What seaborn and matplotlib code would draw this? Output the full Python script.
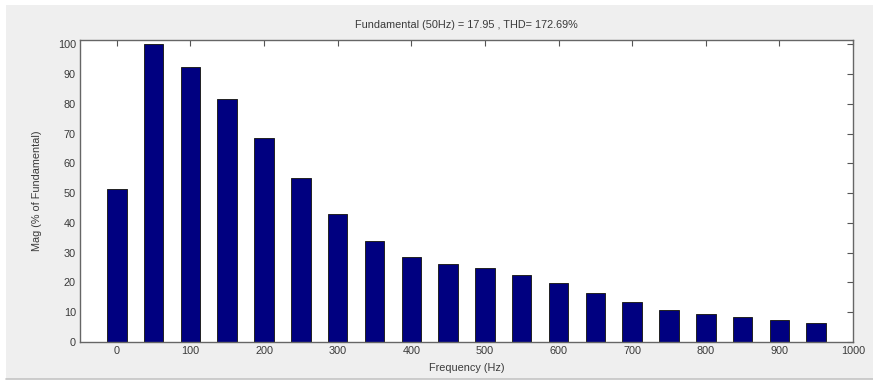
# FFT spectrum bar chart (MATLAB powergui style)
import numpy as np
import pandas as pd
import seaborn as sns
import matplotlib.pyplot as plt
from matplotlib.patches import Rectangle
from matplotlib.lines import Line2D

# harmonic frequencies (Hz) and magnitudes (% of fundamental)
freq = [0, 50, 100, 150, 200, 250, 300, 350, 400, 450,
        500, 550, 600, 650, 700, 750, 800, 850, 900, 950]
mag = [51.4, 100.0, 92.5, 81.7, 68.6, 55.0, 43.1, 33.8, 28.4, 26.3,
       24.9, 22.4, 19.8, 16.6, 13.4, 10.9, 9.4, 8.3, 7.4, 6.4]

title = "Fundamental (50Hz) = 17.95 , THD= 172.69%"
xlabel = "Frequency (Hz)"
ylabel = "Mag (% of Fundamental)"
xticks = list(range(0, 1001, 100))
yticks = list(range(0, 101, 10))

df = pd.DataFrame({"freq": freq, "mag": mag})

sns.set_style("white")
plt.rcParams["font.family"] = ["Liberation Sans", "DejaVu Sans"]
txt_col = "#3a3a3a"

fig = plt.figure(figsize=(8.73, 3.83), dpi=100, facecolor="white")
# grey window panel behind the axes
fig.patches.append(Rectangle((6 / 873, 4 / 383), 867 / 873, 374 / 383,
                             transform=fig.transFigure, facecolor="#efefef",
                             edgecolor="none", zorder=-10))
fig.lines.append(Line2D([6 / 873, 1], [4 / 383, 4 / 383], transform=fig.transFigure,
                        color="#c4c4c4", lw=1.2, zorder=-9))

ax = fig.add_axes([80 / 873, 41 / 383, 773 / 873, 302 / 383])
ax.set_facecolor("white")

sns.barplot(data=df, x="freq", y="mag", native_scale=True, width=0.53,
            color="#000080", saturation=1, edgecolor="#222222", linewidth=0.7,
            ax=ax)

ax.set_xlim(-50, 1000)
ax.set_ylim(0, 101.5)
ax.set_xticks(xticks)
ax.set_yticks(yticks)
ax.tick_params(direction="in", length=4, width=0.8, top=True, right=True,
               labelsize=7.8, colors="#555555", labelcolor=txt_col, pad=3)
for s in ax.spines.values():
    s.set_color("#666666")
    s.set_linewidth(1.0)

ax.set_title(title, fontsize=7.8, color=txt_col, pad=9)
ax.set_xlabel(xlabel, fontsize=7.8, color=txt_col, labelpad=5)
ax.set_ylabel(ylabel, fontsize=7.8, color=txt_col, labelpad=11)

plt.savefig("out.png", dpi=100, facecolor=fig.get_facecolor())
